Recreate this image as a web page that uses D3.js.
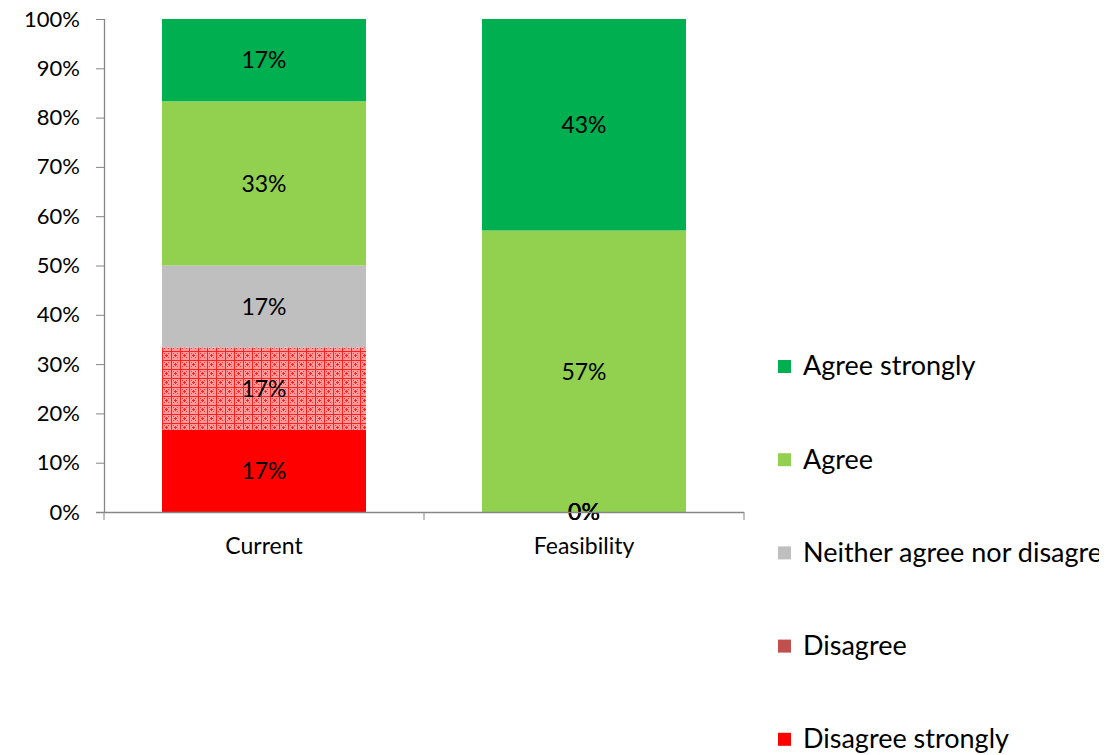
<!DOCTYPE html>
<html>
<head>
<meta charset="utf-8">
<script src="https://cdn.jsdelivr.net/npm/d3@7"></script>
<style>
  body { margin: 0; background: #fff; }
  svg { font-family: Lato, "Open Sans", sans-serif; }
</style>
</head>
<body>
<script>
'use strict'

var w = 1119;
var h = 755;

// data
var categories = ["Current", "Feasibility"];
var series = ["Disagree strongly", "Disagree", "Neither agree nor disagree", "Agree", "Agree strongly"];
var current = [16.7, 16.7, 16.6, 33.3, 16.7];
var feasibility = [0, 0, 0, 57.1, 42.9];
var yTicks = [0, 10, 20, 30, 40, 50, 60, 70, 80, 90, 100];

var colors = ["#FF0000", "#C0504D", "#BFBFBF", "#92D050", "#00B050"];

var plotL = 104, plotR = 744, plotT = 19, plotB = 512;

var rows = categories.map(function(c, i) {
  var vals = i === 0 ? current : feasibility;
  var r = { cat: c };
  series.forEach(function(s, j) { r[s] = vals[j]; });
  return r;
});

var stack = d3.stack().keys(series);
var layers = stack(rows);

var x = d3.scaleBand()
  .domain(categories)
  .range([plotL, plotR])
  .paddingInner(0.3625)
  .paddingOuter(0.18125);

var y = d3.scaleLinear()
  .domain([0, 100])
  .range([plotB, plotT]);

var svg = d3.select("body")
  .append("svg")
  .attr("width", w)
  .attr("height", h);

// dotted red pattern for "Disagree"
var defs = svg.append("defs");
var pat = defs.append("pattern")
  .attr("id", "disPat")
  .attr("patternUnits", "userSpaceOnUse")
  .attr("width", 9)
  .attr("height", 9);
pat.append("rect").attr("width", 9).attr("height", 9).attr("fill", "#FF9A9A");
pat.append("path")
  .attr("d", "M0,0.5H9M0.5,0V9M4.5,3V6M3,4.5H6")
  .attr("stroke", "#FF2020")
  .attr("stroke-width", 1);
[[2, 2], [6, 2], [2, 6], [6, 6]].forEach(function(p) {
  pat.append("rect").attr("x", p[0]).attr("y", p[1]).attr("width", 1).attr("height", 1).attr("fill", "#FF3030");
});

// the legend runs off the right edge in the original
defs.append("clipPath").attr("id", "legClip")
  .append("rect").attr("x", 0).attr("y", 0).attr("width", 1099).attr("height", h);

function fillFor(j) {
  return j === 1 ? "url(#disPat)" : colors[j];
}

// bars
var g = svg.append("g");
layers.forEach(function(layer, j) {
  g.selectAll(null)
    .data(layer)
    .enter()
    .append("rect")
    .attr("x", function(d) { return x(d.data.cat); })
    .attr("width", x.bandwidth())
    .attr("y", function(d) { return y(d[1]); })
    .attr("height", function(d) { return y(d[0]) - y(d[1]); })
    .attr("fill", fillFor(j));
});

// axes
var yAxis = d3.axisLeft(y)
  .tickValues(yTicks)
  .tickSize(8)
  .tickPadding(16)
  .tickFormat(function(d) { return d + "%"; });

var ya = svg.append("g")
  .attr("transform", "translate(" + plotL + ",0)")
  .call(yAxis);

var xa = svg.append("g")
  .attr("transform", "translate(0," + plotB + ")")
  .call(d3.axisBottom(x).tickSize(0).tickPadding(26));

// category separators on x axis
xa.selectAll(".sep")
  .data([plotL, plotL + x.step(), plotR])
  .enter()
  .append("line")
  .attr("x1", function(d) { return d; })
  .attr("x2", function(d) { return d; })
  .attr("y1", 0)
  .attr("y2", 8)
  .attr("stroke", "#868686");

svg.selectAll(".domain").attr("stroke", "#868686").attr("stroke-width", 1.3);
ya.selectAll(".tick line").attr("stroke", "#868686");
xa.select(".domain").attr("d", "M" + (plotL - 8) + ",0.5H" + plotR);
ya.select(".domain").attr("d", "M0.5," + plotT + "V" + plotB);
svg.selectAll(".tick text")
  .attr("fill", "#000")
  .style("font-family", "Lato, 'Open Sans', sans-serif");
ya.selectAll(".tick text").style("font-size", "22px");
xa.selectAll(".tick text").style("font-size", "23px");

// value labels
layers.forEach(function(layer, j) {
  g.selectAll(null)
    .data(layer)
    .enter()
    .append("text")
    .attr("x", function(d) { return x(d.data.cat) + x.bandwidth() / 2; })
    .attr("y", function(d) { return (y(d[0]) + y(d[1])) / 2; })
    .attr("dy", "0.36em")
    .attr("text-anchor", "middle")
    .style("font-size", "23px")
    .style("fill", "#000")
    .text(function(d) { return Math.round(d[1] - d[0]) + "%"; });
});

// legend, top item first
var legendItems = series.slice().reverse();
var legend = svg.append("g")
  .attr("clip-path", "url(#legClip)")
  .append("g")
  .attr("transform", "translate(778,0)");

var lg = legend.selectAll("g")
  .data(legendItems)
  .enter()
  .append("g")
  .attr("transform", function(d, i) { return "translate(0," + (366 + i * 93.2) + ")"; });

lg.append("rect")
  .attr("x", 0)
  .attr("y", -6)
  .attr("width", 13)
  .attr("height", 13)
  .attr("fill", function(d) { return colors[series.indexOf(d)]; });

lg.append("text")
  .attr("x", 25)
  .attr("dy", "0.35em")
  .style("font-size", "27px")
  .style("fill", "#000")
  .text(function(d) { return d; });
</script>
</body>
</html>
